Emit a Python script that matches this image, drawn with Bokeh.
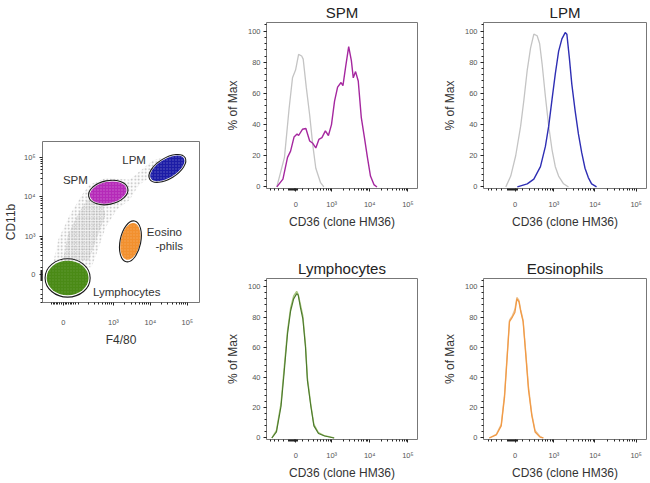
import numpy as np
from bokeh.plotting import figure
from bokeh.models import Range1d, FixedTicker, Spacer, Label, CustomJSTickFormatter
from bokeh.layouts import row, column
from bokeh.embed import file_html
from bokeh.resources import INLINE

FONT = "Liberation Sans"

# ---------------- data (x in biexponential display units, "decades") ----------------
# Histograms: % of Max vs CD36 (clone HM36)
spm_iso_x = [1.57, 1.77, 1.89, 1.98, 2.06, 2.14, 2.22, 2.26, 2.34, 2.43, 2.51, 2.59, 2.71, 2.80]
spm_iso_y = [0, 19, 50, 70, 75, 85, 84, 82, 64, 46, 27, 12, 3, 0]
spm_x = [1.57, 1.73, 1.85, 1.93, 2.02, 2.10, 2.14, 2.24, 2.33, 2.43, 2.51, 2.59, 2.67, 2.75,
         2.84, 2.92, 3.00, 3.08, 3.16, 3.25, 3.30, 3.37, 3.45, 3.52, 3.57, 3.63, 3.70, 3.78,
         3.86, 3.94, 4.02, 4.11, 4.19]
spm_y = [0, 5, 19, 23, 32, 34, 33, 37, 37.5, 29.5, 28, 25, 30.5, 31.6, 36, 33, 40, 55, 64, 67,
         65, 77, 90, 81, 70, 74, 68, 44.5, 32, 19, 7, 1.5, 0]

lpm_iso_x = [1.84, 1.96, 2.08, 2.20, 2.28, 2.36, 2.44, 2.52, 2.60, 2.66, 2.72, 2.80, 2.88, 2.96,
             3.04, 3.12, 3.24, 3.36]
lpm_iso_y = [0, 7, 20, 39, 56, 75, 89, 98, 97, 92, 79, 58, 39, 24, 13, 7, 2, 0]
lpm_x = [2.12, 2.36, 2.52, 2.68, 2.80, 2.88, 2.96, 3.04, 3.12, 3.20, 3.28, 3.32, 3.38, 3.44,
         3.52, 3.60, 3.68, 3.76, 3.84, 3.92, 4.04]
lpm_y = [0, 2, 5, 13, 26, 39, 56, 72.5, 87, 95, 99, 98, 83, 66, 49, 34, 22, 12, 6, 2, 0]

lym_x = [1.44, 1.56, 1.68, 1.76, 1.85, 1.93, 2.01, 2.09, 2.13, 2.19, 2.25, 2.32, 2.37, 2.46,
         2.54, 2.66, 2.82, 3.07]
lym_iso_y = [0, 5, 23, 46, 71, 86, 94, 97, 95, 88, 81, 62, 40, 22, 9, 3.5, 1.5, 0]
lym_y = [0, 4, 21, 43, 69, 84, 92, 95.5, 94.5, 86, 79, 60, 38, 21, 8, 3, 1.3, 0]

eos_x = [1.44, 1.61, 1.73, 1.81, 1.89, 1.93, 2.00, 2.06, 2.11, 2.16, 2.20, 2.26, 2.33, 2.39,
         2.47, 2.55, 2.67, 2.75]
eos_iso_y = [0, 2.5, 9, 29, 62, 78, 81, 85, 93, 91, 85, 78, 55, 34, 16, 5, 1, 0]
eos_y = [0, 2, 8, 27, 60, 77, 80, 83, 92, 90, 84, 77, 53, 32, 15, 4, 0.6, 0]

# Dot plot: F4/80 (x) vs CD11b (y) gated populations
pop_names = ["Lymphocytes", "SPM", "LPM", "Eosinophils"]
pop_x = [1.76, 2.86, 4.46, 3.46]
pop_y = [1.95, 4.11, 4.72, 2.875]
pop_w = [1.22, 1.08, 1.12, 0.56]
pop_h = [0.97, 0.60, 0.52, 1.05]
pop_angle = [0.0, 0.2, 0.55, -0.2]

cloud_x = [1.38, 1.51, 1.82, 2.15, 2.33, 2.79, 3.44, 3.82, 4.08, 4.33, 4.08, 3.69, 3.44, 3.10,
           2.79, 2.59, 2.41, 2.03]
cloud_y = [2.375, 2.93, 3.55, 4.05, 4.30, 4.48, 4.43, 4.73, 4.93, 4.98, 4.55, 4.30, 3.93, 3.68,
           3.23, 2.68, 2.23, 2.18]
core_x = [1.64, 1.77, 2.03, 2.28, 2.67, 2.79, 2.54, 2.33]
core_y = [2.43, 3.05, 3.55, 3.93, 3.93, 3.55, 2.93, 2.38]

MAJOR_VALUES = [0, 1e3, 1e4, 1e5]
MAJOR_TEXT = ["0", "10³", "10⁴", "10⁵"]


def biex(v, w):
    v = np.asarray(v, dtype=float)
    return np.log10((v + np.sqrt(v * v + 4.0 * w * w)) / 2.0)


def logicle_axis(axis, w, lo, hi, rug):
    major = [float(biex(v, w)) for v in MAJOR_VALUES]
    minor_vals = list(rug) + [-500, -400, -300, -200] + list(range(100, 1000, 100)) + \
        [k * 10 ** e for e in (3, 4) for k in range(2, 10)]
    minor = [float(biex(v, w)) for v in minor_vals]
    minor = [m for m in minor if lo < m < hi]
    axis.ticker = FixedTicker(ticks=major, minor_ticks=minor)
    axis.formatter = CustomJSTickFormatter(args=dict(pos=major, txt=MAJOR_TEXT), code="""
        let best = 0, bd = 1e9;
        for (let i = 0; i < pos.length; i++) {
            const d = Math.abs(pos[i] - tick);
            if (d < bd) { bd = d; best = i; }
        }
        return txt[best];
    """)


def style_axes(p):
    for ax in (p.xaxis[0], p.yaxis[0]):
        ax.axis_line_color = None
        ax.major_tick_line_color = "#222"
        ax.minor_tick_line_color = "#222"
        ax.major_tick_in = 0
        ax.minor_tick_in = 0
        ax.major_tick_out = 3
        ax.minor_tick_out = 2
        ax.major_label_text_font = FONT
        ax.major_label_text_font_size = "7.5px"
        ax.major_label_text_color = "#555"
        ax.axis_label_text_font = FONT
        ax.axis_label_text_font_size = "12px"
        ax.axis_label_text_font_style = "normal"
        ax.axis_label_text_color = "#333"
    p.xaxis[0].major_label_standoff = 8
    p.xaxis[0].axis_label_standoff = 3
    p.yaxis[0].major_label_standoff = 3
    p.yaxis[0].axis_label_standoff = 5
    p.grid.visible = False
    p.outline_line_color = "#777"
    p.outline_line_width = 1


HX = (1.3, 5.25)
HY = (-1, 105.5)


def hist_panel(title, curves, ml, mr, mt, mb, width, height):
    p = figure(width=width, height=height, x_range=Range1d(*HX), y_range=Range1d(*HY),
               output_backend="svg", toolbar_location=None, title=title,
               min_border_left=ml, min_border_right=mr, min_border_top=mt, min_border_bottom=mb)
    p.title.align = "center"
    p.title.text_font = FONT
    p.title.text_font_size = "15px"
    p.title.text_font_style = "normal"
    p.title.text_color = "#222"
    p.title.standoff = 3
    for xs, ys, col, lw in curves:
        p.line(xs, ys, line_color=col, line_width=lw)
    style_axes(p)
    logicle_axis(p.xaxis[0], 117, HX[0], HX[1], np.arange(-100, 30, 12.5))
    p.xaxis[0].axis_label = "CD36 (clone HM36)"
    p.yaxis[0].ticker = FixedTicker(ticks=[0, 20, 40, 60, 80, 100], minor_ticks=list(range(0, 105, 4)))
    p.yaxis[0].axis_label = "% of Max"
    return p


# ---------------- histograms ----------------
spm = hist_panel("SPM", [(spm_iso_x, spm_iso_y, "#c4c4c4", 1.3), (spm_x, spm_y, "#a5279f", 1.4)],
                 37, 15, 22, 67, 210, 255)
lpm = hist_panel("LPM", [(lpm_iso_x, lpm_iso_y, "#c4c4c4", 1.3), (lpm_x, lpm_y, "#2e2eb4", 1.4)],
                 51, 3, 22, 67, 217, 255)
lym = hist_panel("Lymphocytes", [(lym_x, lym_iso_y, "#a9c77e", 1.3), (lym_x, lym_y, "#4d7a2c", 1.2)],
                 37, 15, 23, 38, 210, 227)
eos = hist_panel("Eosinophils", [(eos_x, eos_iso_y, "#e9c294", 1.3), (eos_x, eos_y, "#f29a45", 1.3)],
                 51, 3, 23, 38, 217, 227)

# ---------------- dot plot ----------------
SX = (1.08, 5.33)
SY = (1.33, 5.4)
sc = figure(width=222, height=224, x_range=Range1d(*SX), y_range=Range1d(*SY),
            output_backend="svg", toolbar_location=None,
            min_border_left=33, min_border_right=23, min_border_top=16, min_border_bottom=45)
style_axes(sc)
logicle_axis(sc.xaxis[0], 44, SX[0], SX[1], np.arange(-70, 75, 10))
logicle_axis(sc.yaxis[0], 107, SY[0], SY[1], np.arange(-75, 55, 12.5))
sc.xaxis[0].axis_label = "F4/80"
sc.yaxis[0].axis_label = "CD11b"
sc.xaxis[0].major_label_standoff = 12
sc.yaxis[0].major_label_standoff = 4
sc.yaxis[0].axis_label_standoff = 3

sc.patch(cloud_x, cloud_y, fill_color="#d8d8d8", fill_alpha=0.08, line_color=None,
         hatch_pattern="dot", hatch_color="#b8b8b8", hatch_scale=3.5, hatch_weight=0.6)
sc.patch(core_x, core_y, fill_color="#cccccc", fill_alpha=0.18, line_color=None,
         hatch_pattern="dot", hatch_color="#a4a4a4", hatch_scale=2.5, hatch_weight=0.7)

pop_fill = ["#4a8a16", "#b52ab8", "#1c1ca6", "#f2902e"]
pop_speckle = [0.12, 0.3, 0.3, 0.2]
for i in range(len(pop_names)):
    sc.ellipse(x=pop_x[i], y=pop_y[i], width=pop_w[i] * 0.93, height=pop_h[i] * 0.9,
               angle=pop_angle[i], fill_color=pop_fill[i], line_color=None,
               hatch_pattern="dot", hatch_color="white", hatch_alpha=pop_speckle[i],
               hatch_scale=3, hatch_weight=0.5)
    sc.ellipse(x=pop_x[i], y=pop_y[i], width=pop_w[i], height=pop_h[i], angle=pop_angle[i],
               fill_color=None, line_color="#1a1a1a", line_width=1.1)

for txt, lx, ly in [("SPM", 1.97, 4.43), ("LPM", 3.56, 4.93), ("Eosino", 4.38, 3.1),
                    ("-phils", 4.51, 2.75), ("Lymphocytes", 3.36, 1.6)]:
    sc.add_layout(Label(x=lx, y=ly, text=txt, text_align="center", text_baseline="middle",
                        text_font=FONT, text_font_size="11.5px", text_color="#333"))

left = column(Spacer(width=222, height=125), sc)
right = column(row(spm, lpm), row(lym, eos))
layout = row(left, right)

open("out.html", "w").write(file_html(layout, INLINE))
